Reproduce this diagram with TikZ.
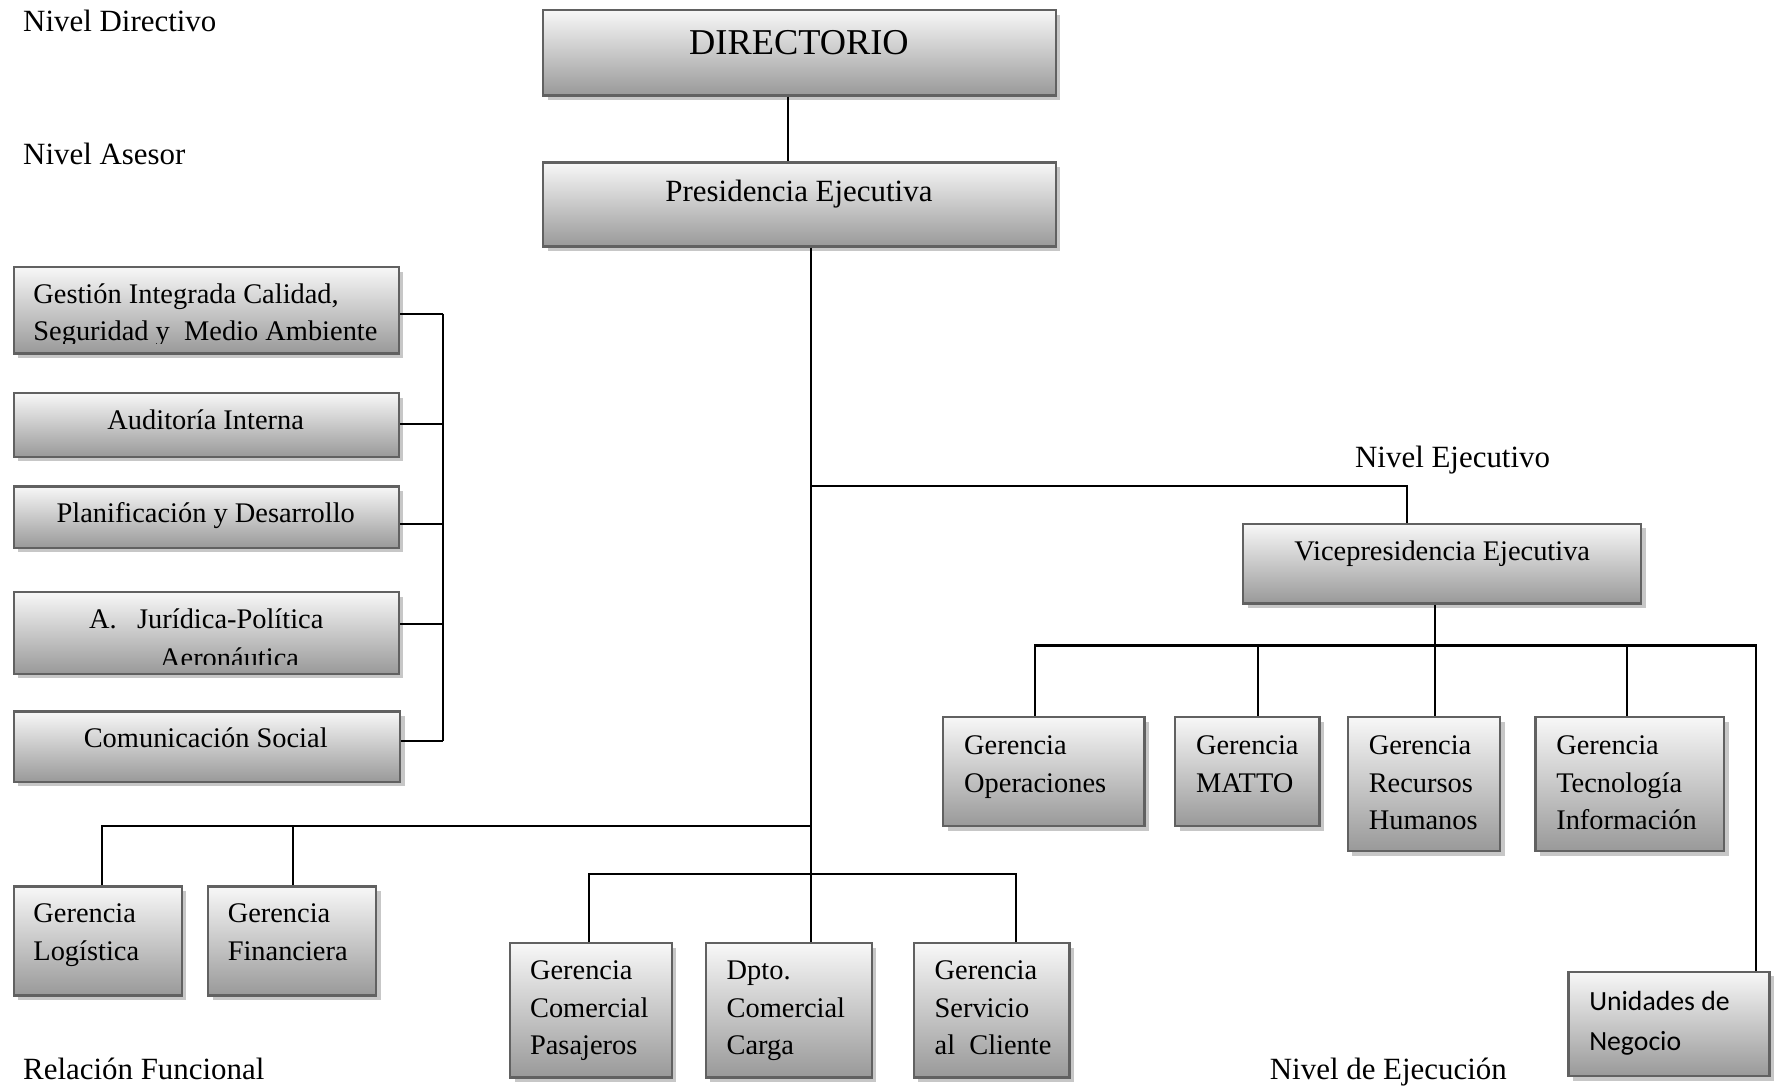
\documentclass[tikz,border=0pt]{standalone}
\usepackage{fontspec}
\setmainfont{Liberation Serif}
\newfontfamily\calibrifont{Carlito}
\usetikzlibrary{fit,shadows}

\tikzset{
  orgbox/.style={draw=black!62, line width=1pt, top color=black!3, bottom color=black!40,
    inner sep=0pt, drop shadow={shadow xshift=2pt, shadow yshift=-2pt, fill=black!22, opacity=1}},
  wire/.style={line width=0.9pt, black},
  txt/.style={inner sep=0pt, font=\fontsize{12.5}{16.5}\selectfont},
  captxt/.style={inner sep=0pt, font=\fontsize{13.6}{16.5}\selectfont},
  bigtxt/.style={inner sep=0pt, font=\fontsize{16}{19}\selectfont},
  sanstxt/.style={inner sep=0pt, font=\calibrifont\fontsize{12.2}{17.5}\selectfont},
}
\newcommand\stacklines[1]{\begin{tabular}[t]{@{}l@{}}#1\end{tabular}}

\begin{document}
\begin{tikzpicture}[x=0.5pt,y=-0.5pt]
\useasboundingbox (0,0) rectangle (1568,956);
\fill[white] (0,0) rectangle (1568,956);

% level captions
\node[captxt, anchor=base west] (l-dir) at (20,28) {Nivel Directivo};
\node[captxt, anchor=base west] (l-ase) at (20,145) {Nivel Asesor};
\node[captxt, anchor=base west] (l-eje) at (1192,411) {Nivel Ejecutivo};
\node[captxt, anchor=base west] (l-fun) at (20,950) {Relación Funcional};
\node[captxt, anchor=base west] (l-ejc) at (1117,950) {Nivel de Ejecución};

% boxes
\node[orgbox, fit={(478,9)(929,84)}] (dir) {};
\node[orgbox, fit={(478,143)(929,217)}] (pres) {};
\node[orgbox, fit={(12,235)(351,311)}] (gest) {};
\node[orgbox, fit={(12,346)(351,402)}] (aud) {};
\node[orgbox, fit={(12,428)(351,482)}] (plan) {};
\node[orgbox, fit={(12,521)(351,593)}] (jur) {};
\node[orgbox, fit={(12,626)(352,688)}] (com) {};
\node[orgbox, fit={(1094,461)(1444,531)}] (vice) {};
\node[orgbox, fit={(830,631)(1007,727)}] (ops) {};
\node[orgbox, fit={(1034,631)(1161,727)}] (matto) {};
\node[orgbox, fit={(1186,631)(1320,749)}] (rh) {};
\node[orgbox, fit={(1351,631)(1517,749)}] (ti) {};
\node[orgbox, fit={(1380,855)(1557,947)}] (un) {};
\node[orgbox, fit={(12,780)(160,876)}] (log) {};
\node[orgbox, fit={(183,780)(331,876)}] (fin) {};
\node[orgbox, fit={(449,830)(591,948)}] (pas) {};
\node[orgbox, fit={(621,830)(767,948)}] (carga) {};
\node[orgbox, fit={(804,830)(941,948)}] (serv) {};

% box texts
\node[bigtxt, anchor=base] (t-dir) at (703,48) {DIRECTORIO};
\node[captxt, anchor=base] (t-pres) at (703,177) {Presidencia Ejecutiva};
\begin{scope}
  \clip (12,235) rectangle (351,302);
  \node[txt, anchor=base west] (t-gest) at (29,267) {\stacklines{Gestión Integrada Calidad,\\Seguridad y~ Medio Ambiente}};
\end{scope}
\node[txt, anchor=base] (t-aud) at (181,378) {Auditoría Interna};
\node[txt, anchor=base] (t-plan) at (181,460) {Planificación y Desarrollo};
\node[txt, anchor=base west] (t-jur) at (78,553) {A.\hspace{9pt}Jurídica-Política};
\begin{scope}
  \clip (12,521) rectangle (351,585);
  \node[txt, anchor=base] (t-aer) at (202,587) {Aeronáutica};
\end{scope}
\node[txt, anchor=base] (t-com) at (181,658) {Comunicación Social};
\node[txt, anchor=base] (t-vice) at (1269,493) {Vicepresidencia Ejecutiva};
\node[txt, anchor=base west] (t-ops) at (848,664) {\stacklines{Gerencia\\Operaciones}};
\node[txt, anchor=base west] (t-matto) at (1052,664) {\stacklines{Gerencia\\MATTO}};
\node[txt, anchor=base west] (t-rh) at (1204,664) {\stacklines{Gerencia\\Recursos\\Humanos}};
\node[txt, anchor=base west] (t-ti) at (1369,664) {\stacklines{Gerencia\\Tecnología\\Información}};
\node[sanstxt, anchor=base west] (t-un) at (1398,889) {\stacklines{Unidades de\\Negocio}};
\node[txt, anchor=base west] (t-log) at (29,812) {\stacklines{Gerencia\\Logística}};
\node[txt, anchor=base west] (t-fin) at (200,812) {\stacklines{Gerencia\\Financiera}};
\node[txt, anchor=base west] (t-pas) at (466,862) {\stacklines{Gerencia\\Comercial\\Pasajeros}};
\node[txt, anchor=base west] (t-carga) at (639,862) {\stacklines{Dpto.\\Comercial\\Carga}};
\node[txt, anchor=base west] (t-serv) at (822,862) {\stacklines{Gerencia\\Servicio\\al~ Cliente}};

% connectors
\coordinate (dx) at (693,0);
\draw[wire] (dir.south -| dx) -- (pres.north -| dx);
\coordinate (tr) at (714,0);
\draw[wire] (pres.south -| tr) -- (carga.north -| tr);
\coordinate (vj) at (1238,428);
\draw[wire] (tr |- vj) -- (vj) -- (vice.north -| vj);
\coordinate (lj) at (90,727);
\draw[wire] (tr |- lj) -- (lj) -- (log.north -| lj);
\coordinate (fj) at (258,727);
\draw[wire] (fj) -- (fin.north -| fj);
\coordinate (cl) at (518,769);
\coordinate (cr) at (894,769);
\draw[wire] (pas.north -| cl) -- (cl) -- (cr) -- (serv.north -| cr);
\coordinate (vb) at (1263,568);
\draw[wire] (vice.south -| vb) -- (rh.north -| vb);
\coordinate (bl) at (911,568);
\coordinate (br) at (1545,568);
\draw[wire] (ops.north -| bl) -- (bl) -- (br) -- (un.north -| br);
\coordinate (mx) at (1107,568);
\draw[wire] (mx) -- (matto.north -| mx);
\coordinate (tx) at (1432,568);
\draw[wire] (tx) -- (ti.north -| tx);

% advisory bracket
\coordinate (a1) at (390,276);
\coordinate (a2) at (390,373);
\coordinate (a3) at (390,461);
\coordinate (a4) at (390,549);
\coordinate (a5) at (390,652);
\draw[wire] (a1) -- (a5);
\draw[wire] (gest.east |- a1) -- (a1);
\draw[wire] (aud.east |- a2) -- (a2);
\draw[wire] (plan.east |- a3) -- (a3);
\draw[wire] (jur.east |- a4) -- (a4);
\draw[wire] (com.east |- a5) -- (a5);
\end{tikzpicture}
\end{document}
